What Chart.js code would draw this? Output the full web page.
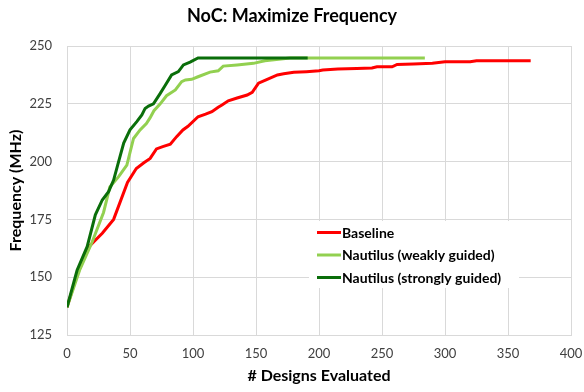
<!DOCTYPE html>
<html><head><meta charset="utf-8">
<script src="https://cdn.jsdelivr.net/npm/chart.js@4"></script>
<style>html,body{margin:0;padding:0;background:#fff}#wrap{width:584px;height:392px;position:relative}</style>
</head><body><div id="wrap"><canvas id="c" width="584" height="392"></canvas></div>
<script>
const chartTitle = 'NoC: Maximize Frequency';
const xAxisTitle = '# Designs Evaluated';
const yAxisTitle = 'Frequency (MHz)';
const seriesNames = ['Baseline', 'Nautilus (weakly guided)', 'Nautilus (strongly guided)'];
const seriesColors = ['#ff0000', '#92d050', '#0a6e0a'];

const baselineX = [0, 8, 17, 28, 37, 48, 55, 61, 66, 71, 76, 82, 87, 92, 96, 104, 110, 115, 120, 123, 128, 135, 143, 147, 152, 158, 167, 172, 180, 190, 200, 203, 215, 230, 242, 246, 258, 262, 275, 290, 300, 320, 325, 345, 368];
const baselineY = [137, 151, 163, 169, 175, 191, 197, 199.5, 201.4, 205.5, 206.5, 207.5, 210.8, 213.7, 215.3, 219.4, 220.5, 221.6, 223.5, 224.5, 226.3, 227.5, 228.8, 230, 233.9, 235.3, 237.5, 238, 238.6, 238.9, 239.3, 239.6, 240, 240.3, 240.5, 241, 241, 242, 242.2, 242.5, 243.2, 243.2, 243.6, 243.6, 243.6];

const weakX = [0, 10, 19.8, 29, 34, 41, 47.5, 52.8, 58, 63, 66, 69, 74, 79, 86, 91, 94, 99, 104, 113.5, 120, 124, 135, 148, 157, 168, 177, 284];
const weakY = [137, 153, 165, 178, 189, 193.5, 198.5, 210, 213.7, 216.5, 219, 222, 225, 228.5, 231, 234.6, 235.3, 235.6, 236.7, 238.7, 239.3, 241.3, 241.8, 242.5, 243.6, 244.3, 244.8, 244.8];

const strongX = [0, 8, 16, 22.5, 28, 33, 37, 40, 45, 50, 55.4, 59.4, 62, 64.7, 68.6, 74, 78, 83, 88.4, 92.4, 97.7, 104, 191];
const strongY = [137, 153, 163.2, 177, 183.4, 187, 192, 198, 208, 213.7, 217.3, 220.2, 223, 224, 225, 229.5, 233, 237.5, 238.9, 241.8, 243, 244.8, 244.8];

const xMin = 0, xMax = 400, xStep = 50;
const yMin = 125, yMax = 250, yStep = 25;

const FONT = 'Lato, "Open Sans", sans-serif';

function pts(xs, ys) { return xs.map((x, i) => ({ x: x, y: ys[i] })); }

const seriesData = [pts(baselineX, baselineY), pts(weakX, weakY), pts(strongX, strongY)];

const insideLegend = {
  id: 'insideLegend',
  afterDatasetsDraw(chart) {
    const ctx = chart.ctx;
    ctx.save();
    ctx.fillStyle = '#ffffff';
    ctx.fillRect(309, 221, 210, 67);
    ctx.font = 'bold 14px ' + FONT;
    ctx.textBaseline = 'middle';
    ctx.textAlign = 'left';
    chart.data.datasets.forEach((ds, i) => {
      const y = 232.5 + i * 22.5;
      ctx.strokeStyle = ds.borderColor;
      ctx.lineWidth = 3;
      ctx.beginPath();
      ctx.moveTo(317, y);
      ctx.lineTo(341, y);
      ctx.stroke();
      ctx.fillStyle = '#000000';
      ctx.fillText(ds.label, 342, y + 0.5);
    });
    ctx.restore();
  }
};

new Chart(document.getElementById('c'), {
  type: 'line',
  data: {
    datasets: seriesNames.map((name, i) => ({
      label: name,
      data: seriesData[i],
      borderColor: seriesColors[i],
      backgroundColor: seriesColors[i],
      borderWidth: 3,
      pointRadius: 0,
      tension: 0,
      fill: false,
      order: 3 - i
    }))
  },
  options: {
    responsive: false,
    animation: false,
    devicePixelRatio: 1,
    layout: { padding: { top: 0, right: 0, bottom: 0, left: 0 } },
    plugins: {
      legend: { display: false },
      tooltip: { enabled: false },
      title: {
        display: true,
        text: chartTitle,
        color: '#000000',
        font: { family: FONT, size: 18, weight: 'bold', lineHeight: 1.2 },
        padding: { top: 5, bottom: 19.4 }
      }
    },
    scales: {
      x: {
        type: 'linear',
        min: xMin, max: xMax,
        afterFit(s) { s.height = 57; s.paddingRight = 13; s.paddingLeft = 0; },
        ticks: { stepSize: xStep, padding: 11, color: '#404040', font: { family: FONT, size: 13 } },
        grid: { color: '#d9d9d9', drawTicks: false, lineWidth: 1 },
        border: { color: '#d9d9d9' },
        title: { display: true, text: xAxisTitle, color: '#000000', font: { family: FONT, size: 16, weight: 'bold', lineHeight: 1.2 }, padding: { top: 0, bottom: 7 } }
      },
      y: {
        type: 'linear',
        min: yMin, max: yMax,
        afterFit(s) { s.width = 67; },
        ticks: { stepSize: yStep, padding: 15, color: '#404040', font: { family: FONT, size: 13 } },
        grid: { color: '#d9d9d9', drawTicks: false, lineWidth: 1 },
        border: { color: '#d9d9d9' },
        title: { display: true, text: yAxisTitle, color: '#000000', font: { family: FONT, size: 16, weight: 'bold', lineHeight: 1.2 }, padding: { top: 6, bottom: 0 } }
      }
    }
  },
  plugins: [insideLegend]
});
</script>
</body></html>
